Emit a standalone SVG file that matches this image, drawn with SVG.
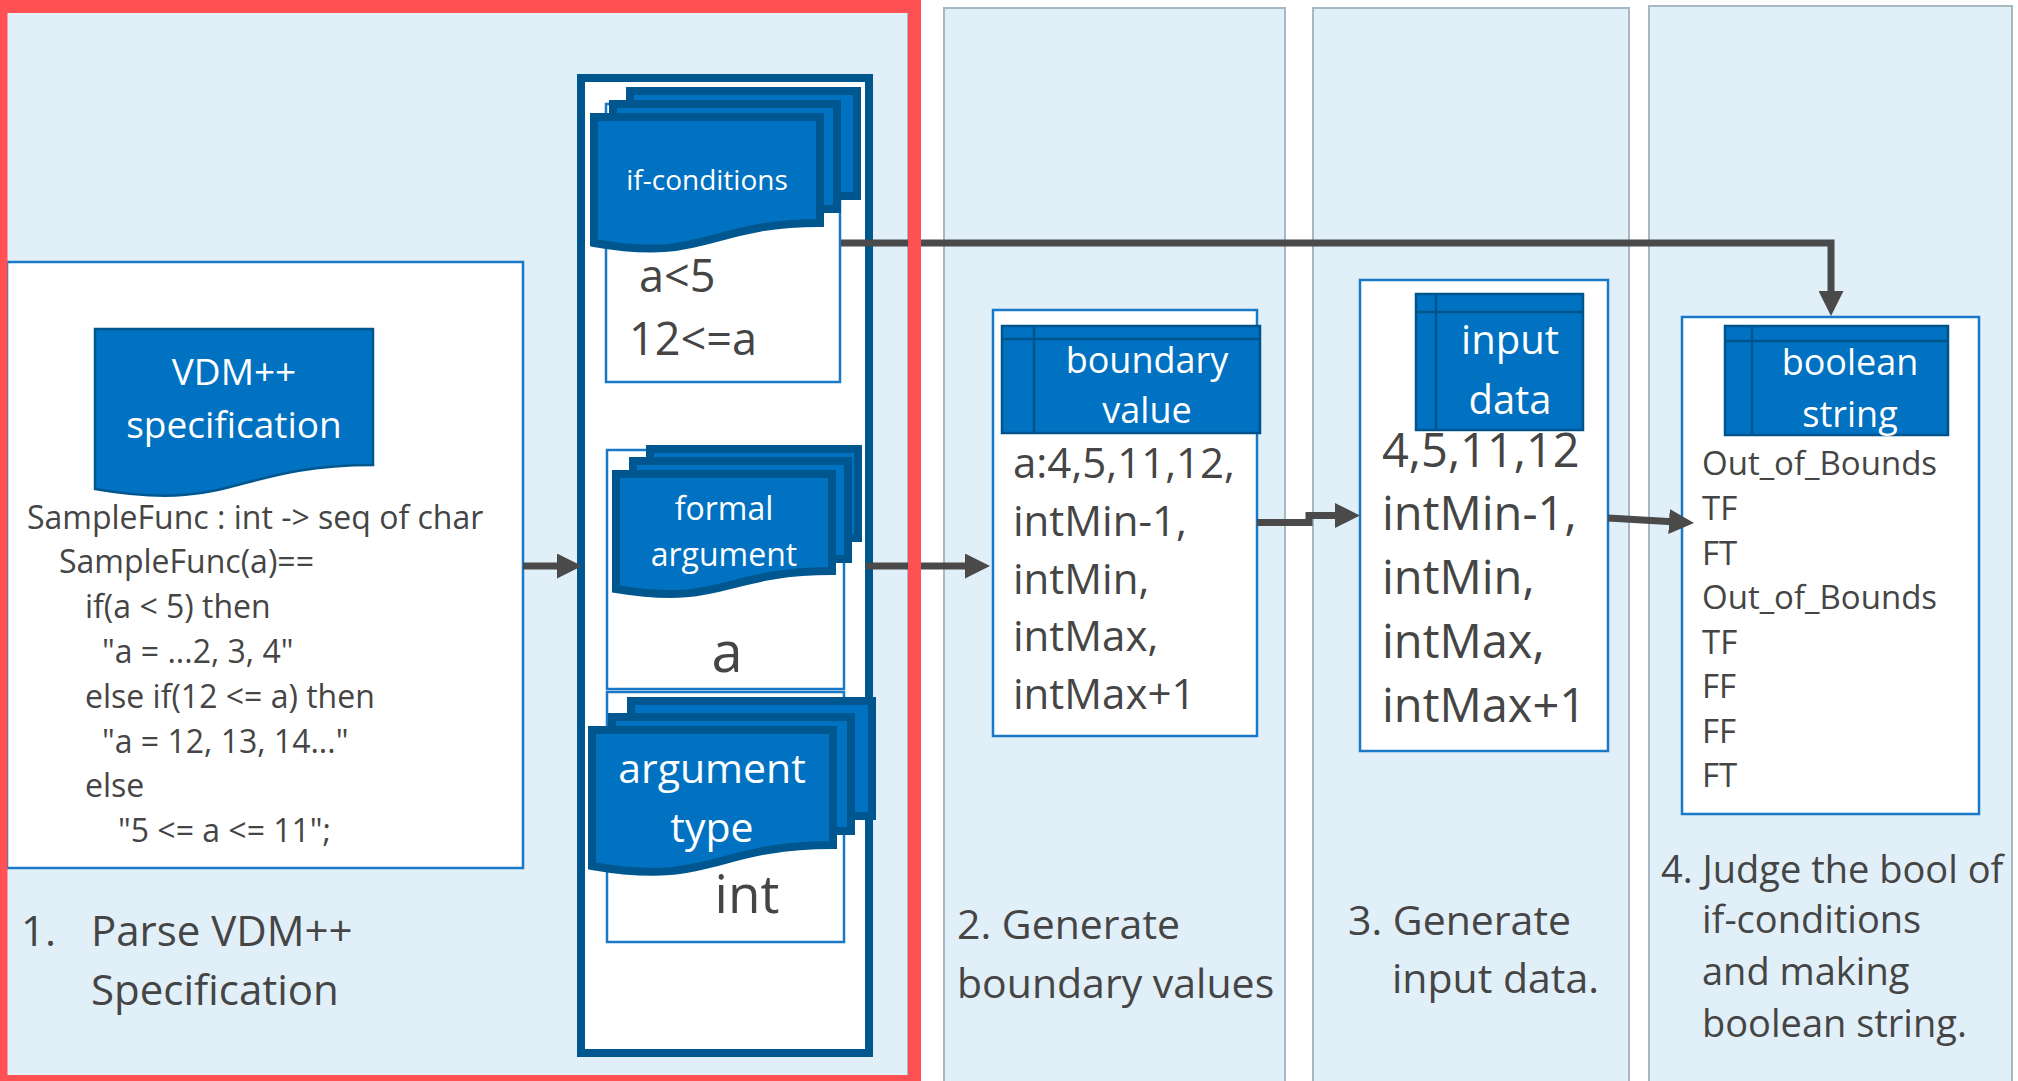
<svg xmlns="http://www.w3.org/2000/svg" width="2018" height="1081" viewBox="0 0 2018 1081">
  <defs>
    <style>
      .bg { fill: #E1EFF9; stroke: #A7B7C4; stroke-width: 2; }
      .box { fill: #FFFFFF; stroke: #1A78C8; stroke-width: 2.5; }
      .stack { fill: #FFFFFF; stroke: #00578F; stroke-width: 8; }
      .doc { fill: #0072C1; stroke: #00578F; stroke-width: 8; }
      .doc-thin { fill: #0072C1; stroke: #00578F; stroke-width: 2.5; }
      .hdr { fill: #0072C1; stroke: #00548C; stroke-width: 2.5; }
      .hl { stroke: #00548C; stroke-width: 2.5; fill: none; }
      .t { font-family: "Open Sans", "Noto Sans", "DejaVu Sans", sans-serif; fill: #454545; }
      .w { font-family: "Open Sans", "Noto Sans", "DejaVu Sans", sans-serif; fill: #FFFFFF; text-anchor: middle; }
      .mid { text-anchor: middle; }
      .conn { fill: none; stroke: #4A4A4A; stroke-width: 7; marker-end: url(#arrow); }
      .frame { fill: none; stroke: #FF5153; stroke-width: 13; }
    </style>
    <marker id="arrow" markerUnits="userSpaceOnUse" markerWidth="25" markerHeight="25" refX="12" refY="12.5" orient="auto">
      <path d="M0,0 L25,12.5 L0,25 Z" fill="#4A4A4A"/>
    </marker>
  </defs>

  <rect width="2018" height="1081" fill="#FFFFFF"/>

  <!-- process lanes -->
  <g id="lanes">
    <rect class="bg" x="4" y="10" width="904" height="1068"/>
    <rect class="bg" x="944" y="8" width="341" height="1085"/>
    <rect class="bg" x="1313" y="8" width="316" height="1085"/>
    <rect class="bg" x="1649" y="6" width="363" height="1087"/>
  </g>

  <!-- step 1: VDM++ specification source -->
  <g id="vdm-spec">
    <rect class="box" x="7" y="262" width="516" height="606"/>
    <path class="doc-thin" d="M95,329 H373 V465 C234,465 234,513 95,489 Z"/>
    <text class="w" font-size="37" x="234" y="385">VDM++</text>
    <text class="w" font-size="37" x="234" y="438">specification</text>
    <g class="t" font-size="32">
      <text x="27" y="529">SampleFunc : int -&gt; seq of char</text>
      <text x="59" y="573">SampleFunc(a)==</text>
      <text x="85" y="618">if(a &lt; 5) then</text>
      <text x="102" y="663">"a = ...2, 3, 4"</text>
      <text x="85" y="708">else if(12 &lt;= a) then</text>
      <text x="102" y="753">"a = 12, 13, 14..."</text>
      <text x="85" y="797">else</text>
      <text x="118" y="842">"5 &lt;= a &lt;= 11";</text>
    </g>
  </g>

  <!-- parsed elements container -->
  <g id="parsed">
    <rect class="stack" x="581" y="78" width="288" height="975"/>
  </g>

  <g id="if-conditions">
    <rect class="box" x="606" y="104" width="234" height="278"/>
    <rect class="doc" x="630" y="91" width="227" height="105"/>
    <rect class="doc" x="613" y="104" width="224" height="105"/>
    <path class="doc" d="M594,117 H820 V223 C707,223 707,263 594,243 Z"/>
    <text class="w" font-size="28" x="707" y="190">if-conditions</text>
    <text class="t" font-size="45" x="639" y="292">a&lt;5</text>
    <text class="t" font-size="45" x="629" y="355">12&lt;=a</text>
  </g>

  <g id="formal-argument">
    <rect class="box" x="607" y="450" width="237" height="239"/>
    <rect class="doc" x="650" y="449" width="208" height="89"/>
    <rect class="doc" x="633" y="461" width="215" height="98"/>
    <path class="doc" d="M616,474 H832 V571 C724,571 724,607 616,589 Z"/>
    <text class="w" font-size="32" x="724" y="520">formal</text>
    <text class="w" font-size="32" x="724" y="566">argument</text>
    <text class="t mid" font-size="56" x="727" y="672">a</text>
  </g>

  <g id="argument-type">
    <rect class="box" x="607" y="692" width="237" height="250"/>
    <rect class="doc" x="631" y="701" width="241" height="115"/>
    <rect class="doc" x="612" y="717" width="239" height="114"/>
    <path class="doc" d="M592,730 H833 V845 C712.5,845 712.5,887 592,866 Z"/>
    <text class="w" font-size="41" x="712" y="783">argument</text>
    <text class="w" font-size="41" x="712" y="842">type</text>
    <text class="t mid" font-size="53" x="747" y="913">int</text>
  </g>

  <!-- step 2: boundary values -->
  <g id="boundary-value">
    <rect class="box" x="993" y="310" width="264" height="426"/>
    <rect class="hdr" x="1002" y="326" width="258" height="107"/>
    <path class="hl" d="M1002,339 H1260 M1034,326 V433"/>
    <text class="w" font-size="36" x="1147" y="373">boundary</text>
    <text class="w" font-size="36" x="1147" y="423">value</text>
    <g class="t" font-size="42">
      <text x="1013" y="478">a:4,5,11,12,</text>
      <text x="1013" y="536">intMin-1,</text>
      <text x="1013" y="594">intMin,</text>
      <text x="1013" y="651">intMax,</text>
      <text x="1013" y="709">intMax+1</text>
    </g>
  </g>

  <!-- step 3: input data -->
  <g id="input-data">
    <rect class="box" x="1360" y="280" width="248" height="471"/>
    <rect class="hdr" x="1416" y="294" width="167" height="136"/>
    <path class="hl" d="M1416,312 H1583 M1436,294 V430"/>
    <text class="w" font-size="40" x="1510" y="354">input</text>
    <text class="w" font-size="40" x="1510" y="414">data</text>
    <g class="t" font-size="47">
      <text x="1382" y="467">4,5,11,12</text>
      <text x="1382" y="530">intMin-1,</text>
      <text x="1382" y="594">intMin,</text>
      <text x="1382" y="658">intMax,</text>
      <text x="1382" y="722">intMax+1</text>
    </g>
  </g>

  <!-- step 4: boolean strings -->
  <g id="boolean-string">
    <rect class="box" x="1682" y="317" width="297" height="497"/>
    <rect class="hdr" x="1725" y="326" width="223" height="109"/>
    <path class="hl" d="M1725,341 H1948 M1752,326 V435"/>
    <text class="w" font-size="36" x="1850" y="375">boolean</text>
    <text class="w" font-size="36" x="1850" y="427">string</text>
    <g class="t" font-size="33">
      <text x="1702" y="475">Out_of_Bounds</text>
      <text x="1702" y="520">TF</text>
      <text x="1702" y="565">FT</text>
      <text x="1702" y="609">Out_of_Bounds</text>
      <text x="1702" y="654">TF</text>
      <text x="1702" y="698">FF</text>
      <text x="1702" y="743">FF</text>
      <text x="1702" y="787">FT</text>
    </g>
  </g>

  <!-- step captions -->
  <g id="captions" class="t">
    <text font-size="42" x="21" y="946">1.</text>
    <text font-size="42" x="91" y="946">Parse VDM++</text>
    <text font-size="42" x="91" y="1005">Specification</text>
    <text font-size="41" x="957" y="939">2. Generate</text>
    <text font-size="41" x="957" y="998">boundary values</text>
    <text font-size="41" x="1348" y="935">3. Generate</text>
    <text font-size="41" x="1392" y="993">input data.</text>
    <text font-size="38" x="1661" y="883">4. Judge the bool of</text>
    <text font-size="38" x="1702" y="933">if-conditions</text>
    <text font-size="38" x="1702" y="985">and making</text>
    <text font-size="38" x="1702" y="1037">boolean string.</text>
  </g>

  <!-- data flow -->
  <g id="connectors">
    <path class="conn" d="M523,566 H569"/>
    <path class="conn" d="M866,566 H977"/>
    <path class="conn" d="M841,243 H1831 V303"/>
    <path class="conn" d="M1257,522.5 H1309 V515.5 H1347"/>
    <path class="conn" d="M1608,518 L1681,522.3"/>
  </g>

  <!-- highlight of step 1 -->
  <g id="highlight">
    <rect class="frame" x="1" y="6.5" width="913.5" height="1075"/>
  </g>
</svg>
